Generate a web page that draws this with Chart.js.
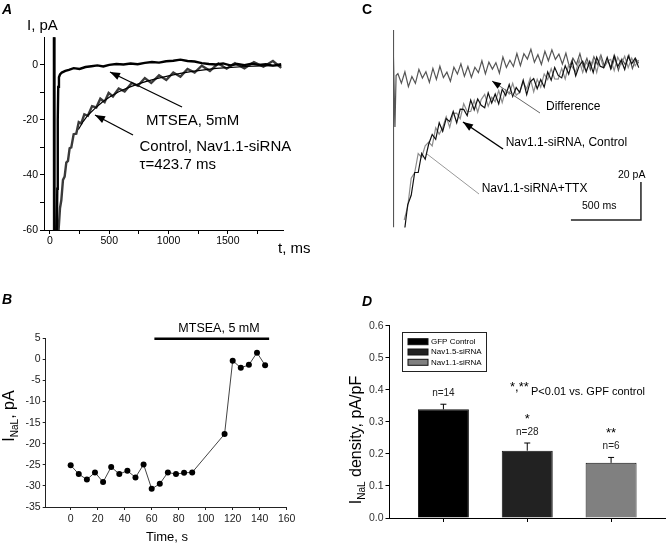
<!DOCTYPE html>
<html>
<head>
<meta charset="utf-8">
<script src="https://cdn.jsdelivr.net/npm/chart.js@4.4.0/dist/chart.umd.min.js"></script>
<style>
  body { margin: 0; background: #fff; }
  #wrap { position: relative; width: 669px; height: 544px; }
  #wrap canvas { position: absolute; left: 0; top: 0; }
</style>
</head>
<body>
<div id="wrap">
  <canvas id="panelA" width="669" height="544"></canvas>
  <canvas id="panelB" width="669" height="544"></canvas>
  <canvas id="panelC" width="669" height="544"></canvas>
  <canvas id="panelD" width="669" height="544"></canvas>
</div>
<script>
// panel A - late current traces (t, ms / I, pA)
var ctrlAT = [33, 35, 68, 73, 85, 96, 110, 124, 138, 152, 166, 180, 200, 222, 243, 264, 290, 320, 355, 391, 425, 461, 495, 531, 580, 630, 690, 742, 800, 854, 920, 981, 1040, 1100, 1160, 1220, 1280, 1349, 1420, 1490, 1560, 1640, 1720, 1800, 1880, 1950];
var ctrlAI = [12, -75, -75, -60, -52, -49.2, -41.8, -40.6, -35.5, -34.9, -30.3, -30, -25.2, -25, -20.8, -21.3, -18, -18.5, -15, -15.5, -12.3, -13.5, -10.2, -11.5, -8.6, -9.7, -6.6, -7.6, -4.8, -6.6, -3.8, -5.5, -2.8, -4.3, -1.5, -2.8, -0.3, -2.2, 0.5, -1.4, 0.6, -1.3, 1, -0.7, 1.4, -1.1];
var mtseaAT = [36, 38, 55, 62, 66, 70, 76, 85, 100, 130, 160, 200, 250, 300, 350, 400, 450, 500, 560, 620, 680, 740, 800, 860, 920, 980, 1040, 1100, 1160, 1220, 1280, 1340, 1400, 1460, 1520, 1580, 1640, 1700, 1760, 1820, 1880, 1950];
var mtseaAI = [12, -75, -75, -45, -20, -8, -4.5, -3.5, -2.8, -2.2, -1.8, -1.2, -1.5, -0.8, -0.5, -0.2, -0.6, 0, 0.3, 0.1, 0.5, 0.2, 0.7, 1.0, 0.8, 1.3, 1.5, 1.9, 1.4, 1.2, 0.6, 0.3, 0.1, 0.5, -0.2, 0.3, -0.1, 0.4, 0, 0.2, -0.3, 0.2];
var fitAT = [240, 280, 320, 380, 440, 500, 580, 660, 740, 820, 900, 1000, 1100, 1200, 1300, 1400, 1500, 1650, 1800, 1950];
var fitAI = [-23.5, -20.6, -18.3, -15.8, -13.6, -11.8, -9.8, -8.3, -7.0, -5.9, -5.0, -4.0, -3.1, -2.4, -1.8, -1.3, -1.0, -0.6, -0.4, -0.3];
var ticksAx = [0, 250, 500, 750, 1000, 1250, 1500, 1750];
var ticksAy = [-60, -50, -40, -30, -20, -10, 0];

// panel B - I_NaL over time
var timeB = [0, 6, 12, 18, 24, 30, 36, 42, 48, 54, 60, 66, 72, 78, 84, 90, 114, 120, 126, 132, 138, 144];
var inalB = [-25.1, -27.2, -28.5, -26.8, -29.1, -25.5, -27.2, -26.4, -28.0, -24.9, -30.7, -29.5, -26.8, -27.2, -26.9, -26.8, -17.7, -0.3, -2.0, -1.3, 1.6, -1.4];
var mtseaSpanB = [62, 147];
var mtseaLevelB = 4.9;
var ticksBx = [0, 20, 40, 60, 80, 100, 120, 140, 160];
var ticksBy = [-35, -30, -25, -20, -15, -10, -5, 0, 5];

// panel C - traces, no axes (t, ms / I, pA)
var diffCT = [0, 1, 6, 14, 22, 35, 60, 85, 110, 135, 160, 185, 210, 235, 260, 285, 310, 335, 360, 385, 410, 435, 460, 485, 510, 535, 560, 585, 610, 635, 660, 685, 710, 735, 760, 785, 810, 835, 860, 885, 910, 935, 960, 985, 1010, 1035, 1060, 1085, 1110, 1135, 1160, 1185, 1210, 1235, 1260, 1285, 1310, 1335, 1360, 1385, 1410, 1435, 1460, 1485, 1510, 1535, 1560, 1585, 1610, 1635, 1660, 1685, 1710, 1735, 1755];
var diffCI = [16, -88, 2, -35, -8, -7, -12, -6, -13.8, -8.5, -12.1, -4.7, -9.3, -6, -11.6, -4.2, -10, -3.1, -9.1, -6.2, -11, -3.6, -7.2, -1.8, -8.4, -3.2, -8.9, -3.6, -6.4, -0.2, -7.1, -0.9, -4.6, -1.2, -6.7, 1.8, -3.7, 0.1, -3.2, 3.6, -2.8, 3.5, 0.7, 5.9, -1, 3, -2.1, 4.8, -0.2, 5.6, 0.5, 3.3, -1.9, 3.8, -3.5, 1.2, -2.1, 3.6, -3.6, 1.1, -5, 1.9, -2.1, 2.8, -3.2, -0.2, -4.2, 1.8, -5.2, 0.8, -2.3, 2.7, -4.3, 0.7, -1.5];
var traceCT = [80, 105, 130, 155, 180, 205, 230, 255, 280, 305, 330, 355, 380, 405, 430, 455, 480, 505, 530, 555, 580, 605, 630, 655, 680, 705, 730, 755, 780, 805, 830, 855, 880, 905, 930, 955, 980, 1005, 1030, 1055, 1080, 1105, 1130, 1155, 1180, 1205, 1230, 1255, 1280, 1305, 1330, 1355, 1380, 1405, 1430, 1455, 1480, 1505, 1530, 1555, 1580, 1605, 1630, 1655, 1680, 1705, 1730, 1755];
var ctrlCI = [-91, -76, -71, -59, -59, -49, -52, -44, -39, -41.5, -32.8, -37.3, -30.6, -32.2, -26.9, -32.8, -25.7, -25.8, -29, -20.9, -26, -20.3, -23.6, -24.9, -17.1, -22.4, -17.7, -22.9, -15.2, -18.5, -12.7, -19, -14.3, -16.8, -10.4, -18, -11.3, -9.6, -14.9, -10.1, -14.1, -6.1, -10.4, -3.7, -7.9, -9.2, -2.8, -7.2, -0.5, -8.1, -2.8, -0.4, -6, -0.6, -6.4, 1.6, -3.1, -3.8, 1.6, -4.4, 2.6, -3.3, 0.1, -4.8, 2.2, -1.8, 1.2, -3.8];
var ttxCI = [-84, -77, -62, -59, -49, -51, -45, -43, -45, -35.5, -38.8, -35.3, -29.6, -35.2, -27.9, -27.8, -30.7, -22.8, -27, -26.9, -21, -27.3, -20.6, -17.9, -24.1, -19.4, -21.7, -15.9, -22.2, -15.5, -17.7, -12, -18.3, -16.8, -11.4, -15, -9.3, -16.6, -9.9, -14.1, -7.1, -10.1, -4.4, -9.7, -9.9, -4.2, -9.8, -2.2, -3.5, -6.1, 0.2, -6.4, -1, -3.6, 0.6, -6.4, 1.9, -3.8, -0.4, 0.6, -5.4, 1.7, -1.9, 2.2, -3.8, 1.2, -2.8, 0.2];
var scaleBarT = [1271, 1771, 1771];
var scaleBarI = [-84, -84, -64];

// panel D - I_NaL density
var groups = ['GFP Control', 'Nav1.5-siRNA', 'Nav1.1-siRNA'];
var density = [0.339, 0.210, 0.172];
var densitySem = [0.016, 0.024, 0.017];
var nCells = [14, 28, 6];
var stars = ['', '*', '**'];
var ticksDy = [0, 0.1, 0.2, 0.3, 0.4, 0.5, 0.6];

var W = 669, H = 544;
var FONT = '"Liberation Sans", Arial, sans-serif';
Chart.defaults.font.family = FONT;

function pts(xs, ys) { return xs.map(function (x, i) { return { x: x, y: ys[i] }; }); }

function frame(left, top, right, bottom, yw, xh) {
  return { padding: { left: left - yw, top: top, right: W - right, bottom: H - bottom - xh } };
}

function axis(o) {
  return {
    type: 'linear', min: o.min, max: o.max, offset: false, display: true,
    afterFit: function (s) { if (o.w != null) s.width = o.w; if (o.h != null) s.height = o.h; },
    afterBuildTicks: function (s) { s.ticks = o.ticks.map(function (v) { return { value: v }; }); },
    grid: { drawOnChartArea: false, drawTicks: true, tickLength: o.tl || 4, color: o.color || '#000', offset: false },
    border: { display: true, color: o.color || '#000', width: 1 },
    ticks: { autoSkip: false, maxRotation: 0, padding: o.pad == null ? 2 : o.pad, color: o.tc || '#000',
             font: { size: o.fs || 10.5 }, callback: o.cb || function (v) { return v; } }
  };
}

function txt(c, s, x, y, size, opt) {
  opt = opt || {};
  c.font = (opt.style || '') + ' ' + size + 'px ' + FONT;
  c.fillStyle = opt.color || '#000';
  c.textAlign = opt.align || 'left';
  c.textBaseline = 'middle';
  c.fillText(s, x, y);
}

function arrow(c, x1, y1, x2, y2, color, lw, head, headColor) {
  c.strokeStyle = color; c.lineWidth = lw;
  c.beginPath(); c.moveTo(x1, y1); c.lineTo(x2, y2); c.stroke();
  if (!head) return;
  var a = Math.atan2(y2 - y1, x2 - x1), w = head * 0.38;
  c.fillStyle = headColor || color;
  c.beginPath();
  c.moveTo(x2, y2);
  c.lineTo(x2 - head * Math.cos(a) + w * Math.sin(a), y2 - head * Math.sin(a) - w * Math.cos(a));
  c.lineTo(x2 - head * Math.cos(a) - w * Math.sin(a), y2 - head * Math.sin(a) + w * Math.cos(a));
  c.closePath(); c.fill();
}

// rotated label with subscript parts
function richText(c, parts, x, y) {
  c.save(); c.translate(x, y); c.rotate(-Math.PI / 2);
  var w = 0;
  parts.forEach(function (p) { c.font = p.size + 'px ' + FONT; p.w = c.measureText(p.t).width; w += p.w; });
  var cx = -w / 2;
  c.textAlign = 'left'; c.textBaseline = 'alphabetic'; c.fillStyle = '#000';
  parts.forEach(function (p) { c.font = p.size + 'px ' + FONT; c.fillText(p.t, cx, p.dy || 0); cx += p.w; });
  c.restore();
}

function notes(draw) {
  return { id: 'notes', afterDatasetsDraw: function (chart) { var c = chart.ctx; c.save(); draw(c, chart); c.restore(); } };
}

var common = { responsive: false, animation: false, events: [], plugins: { legend: { display: false }, tooltip: { enabled: false } } };
function opts(extra) { return Object.assign({}, common, extra); }

// ---------- A
new Chart(document.getElementById('panelA'), {
  type: 'scatter',
  data: { datasets: [
    { data: pts(mtseaAT, mtseaAI), showLine: true, borderColor: '#000', borderWidth: 2.4, pointRadius: 0, order: 0 },
    { data: pts(fitAT, fitAI), showLine: true, borderColor: '#000', borderWidth: 1.2, pointRadius: 0, order: 1 },
    { data: pts(ctrlAT, ctrlAI), showLine: true, borderColor: '#3a3a3a', borderWidth: 2.4, pointRadius: 0, order: 2 }
  ] },
  options: opts({
    layout: frame(44, 37.3, 283, 230, 44, 20),
    scales: {
      x: axis({ min: -50, max: 1965, ticks: ticksAx, h: 20, pad: 1, cb: function (v) { return v % 500 === 0 ? v : ''; } }),
      y: axis({ min: -60, max: 10, ticks: ticksAy, w: 44, cb: function (v) { return v % 20 === 0 ? v : ''; } })
    }
  }),
  plugins: [notes(function (c) {
    txt(c, 'A', 2, 10, 14, { style: 'italic bold' });
    txt(c, 'I, pA', 27, 26, 15);
    txt(c, 't, ms', 278, 249, 15);
    txt(c, 'MTSEA, 5mM', 146, 121, 15);
    txt(c, 'Control, Nav1.1-siRNA', 139.5, 147, 15);
    txt(c, '\u03c4=423.7 ms', 139.5, 165, 15);
    arrow(c, 182, 107, 110, 72, '#000', 1.3, 10);
    arrow(c, 133, 135, 95, 115, '#000', 1.3, 10);
  })]
});

// ---------- B
new Chart(document.getElementById('panelB'), {
  type: 'scatter',
  data: { datasets: [
    { data: pts(mtseaSpanB, mtseaSpanB.map(function () { return mtseaLevelB; })), showLine: true, borderColor: '#000', borderWidth: 2.5, pointRadius: 0, clip: false },
    { data: pts(timeB, inalB), showLine: true, borderColor: '#444', borderWidth: 1, pointRadius: 3, pointBackgroundColor: '#000', pointBorderColor: '#000', pointBorderWidth: 0 }
  ] },
  options: opts({
    layout: frame(45.7, 338.3, 286.7, 507, 45.7, 22),
    scales: {
      x: axis({ min: -18.5, max: 160, ticks: ticksBx, h: 22, tl: 3, pad: 3, color: '#222', tc: '#222' }),
      y: axis({ min: -35, max: 5, ticks: ticksBy, w: 45.7, tl: 3, color: '#222', tc: '#222' })
    }
  }),
  plugins: [notes(function (c) {
    txt(c, 'B', 2, 300, 14, { style: 'italic bold' });
    txt(c, 'MTSEA, 5 mM', 219, 329, 12.5, { align: 'center' });
    txt(c, 'Time, s', 167, 537, 13, { align: 'center' });
    richText(c, [{ t: 'I', size: 16 }, { t: 'NaL', size: 10, dy: 4 }, { t: ', pA', size: 16 }], 14, 416);
  })]
});

// ---------- C
new Chart(document.getElementById('panelC'), {
  type: 'scatter',
  data: { datasets: [
    { data: pts(traceCT, ctrlCI), showLine: true, borderColor: '#111', borderWidth: 1.2, pointRadius: 0, order: 0 },
    { data: pts(traceCT, ttxCI), showLine: true, borderColor: '#8c8c8c', borderWidth: 1.2, pointRadius: 0, order: 1 },
    { data: pts(diffCT, diffCI), showLine: true, borderColor: '#555', borderWidth: 1.2, pointRadius: 0, order: 2 },
    { data: pts(scaleBarT, scaleBarI), showLine: true, borderColor: '#222', borderWidth: 1.5, pointRadius: 0, clip: false, order: 3 }
  ] },
  options: opts({
    layout: { padding: { left: 393, top: 30, right: W - 642.2, bottom: H - 227.6 } },
    scales: {
      x: { type: 'linear', display: false, min: 0, max: 1780 },
      y: { type: 'linear', display: false, min: -88, max: 16 }
    }
  }),
  plugins: [notes(function (c) {
    txt(c, 'C', 362, 10, 14, { style: 'bold' });
    txt(c, 'Difference', 546, 107, 12);
    txt(c, 'Nav1.1-siRNA, Control', 505.7, 142.7, 12);
    txt(c, 'Nav1.1-siRNA+TTX', 481.7, 188.3, 12);
    txt(c, '20 pA', 618, 175, 10.5);
    txt(c, '500 ms', 582, 206, 10.5);
    arrow(c, 540, 113, 492, 81, '#666', 1, 9, '#000');
    arrow(c, 503, 149, 463, 122, '#000', 1.5, 10);
    arrow(c, 479, 194, 427, 154, '#999', 1, 0);
  })]
});

// ---------- D
var barColors = ['#000000', '#222222', '#808080'];
new Chart(document.getElementById('panelD'), {
  type: 'bar',
  data: { datasets: [{
    data: density.map(function (v, i) { return { x: i, y: v }; }),
    backgroundColor: barColors, borderColor: '#111', borderWidth: 1,
    barPercentage: 0.76, categoryPercentage: 0.8
  }] },
  options: opts({
    layout: frame(389.5, 325.7, 665, 518, 40, 16),
    scales: {
      x: axis({ min: -0.643, max: 2.643, ticks: [0, 1, 2], h: 16, cb: function () { return ''; } }),
      y: axis({ min: 0, max: 0.6, ticks: ticksDy, w: 40, tc: '#333', cb: function (v) { return v.toFixed(1); } })
    }
  }),
  plugins: [notes(function (c, chart) {
    var xs = chart.scales.x, ys = chart.scales.y;
    txt(c, 'D', 362, 302, 14, { style: 'italic bold' });
    // error bars + n labels
    density.forEach(function (v, i) {
      var x = xs.getPixelForValue(i), y0 = ys.getPixelForValue(v), y1 = ys.getPixelForValue(v + densitySem[i]);
      c.strokeStyle = '#000'; c.lineWidth = 1;
      c.beginPath(); c.moveTo(x, y0); c.lineTo(x, y1); c.moveTo(x - 3, y1); c.lineTo(x + 3, y1); c.stroke();
      var ny = y1 - 11;
      txt(c, 'n=' + nCells[i], x, ny, 10, { align: 'center', color: '#222' });
      if (stars[i]) txt(c, stars[i], x, ny - 13, 13, { align: 'center' });
    });
    txt(c, '*,**', 510, 387, 13);
    txt(c, 'P<0.01 vs. GPF control', 531, 392, 11);
    // legend
    c.strokeStyle = '#222'; c.lineWidth = 1;
    c.strokeRect(402.5, 332.5, 84, 39);
    groups.forEach(function (g, i) {
      var y = 341.7 + i * 10.3;
      c.fillStyle = barColors[i]; c.fillRect(408, y - 3, 20, 6);
      c.strokeStyle = '#111'; c.strokeRect(408, y - 3, 20, 6);
      txt(c, g, 431, y, 8);
    });
    richText(c, [{ t: 'I', size: 16 }, { t: 'NaL', size: 10, dy: 4 }, { t: ' density, pA/pF', size: 16 }], 361, 440);
  })]
});
</script>
</body>
</html>
